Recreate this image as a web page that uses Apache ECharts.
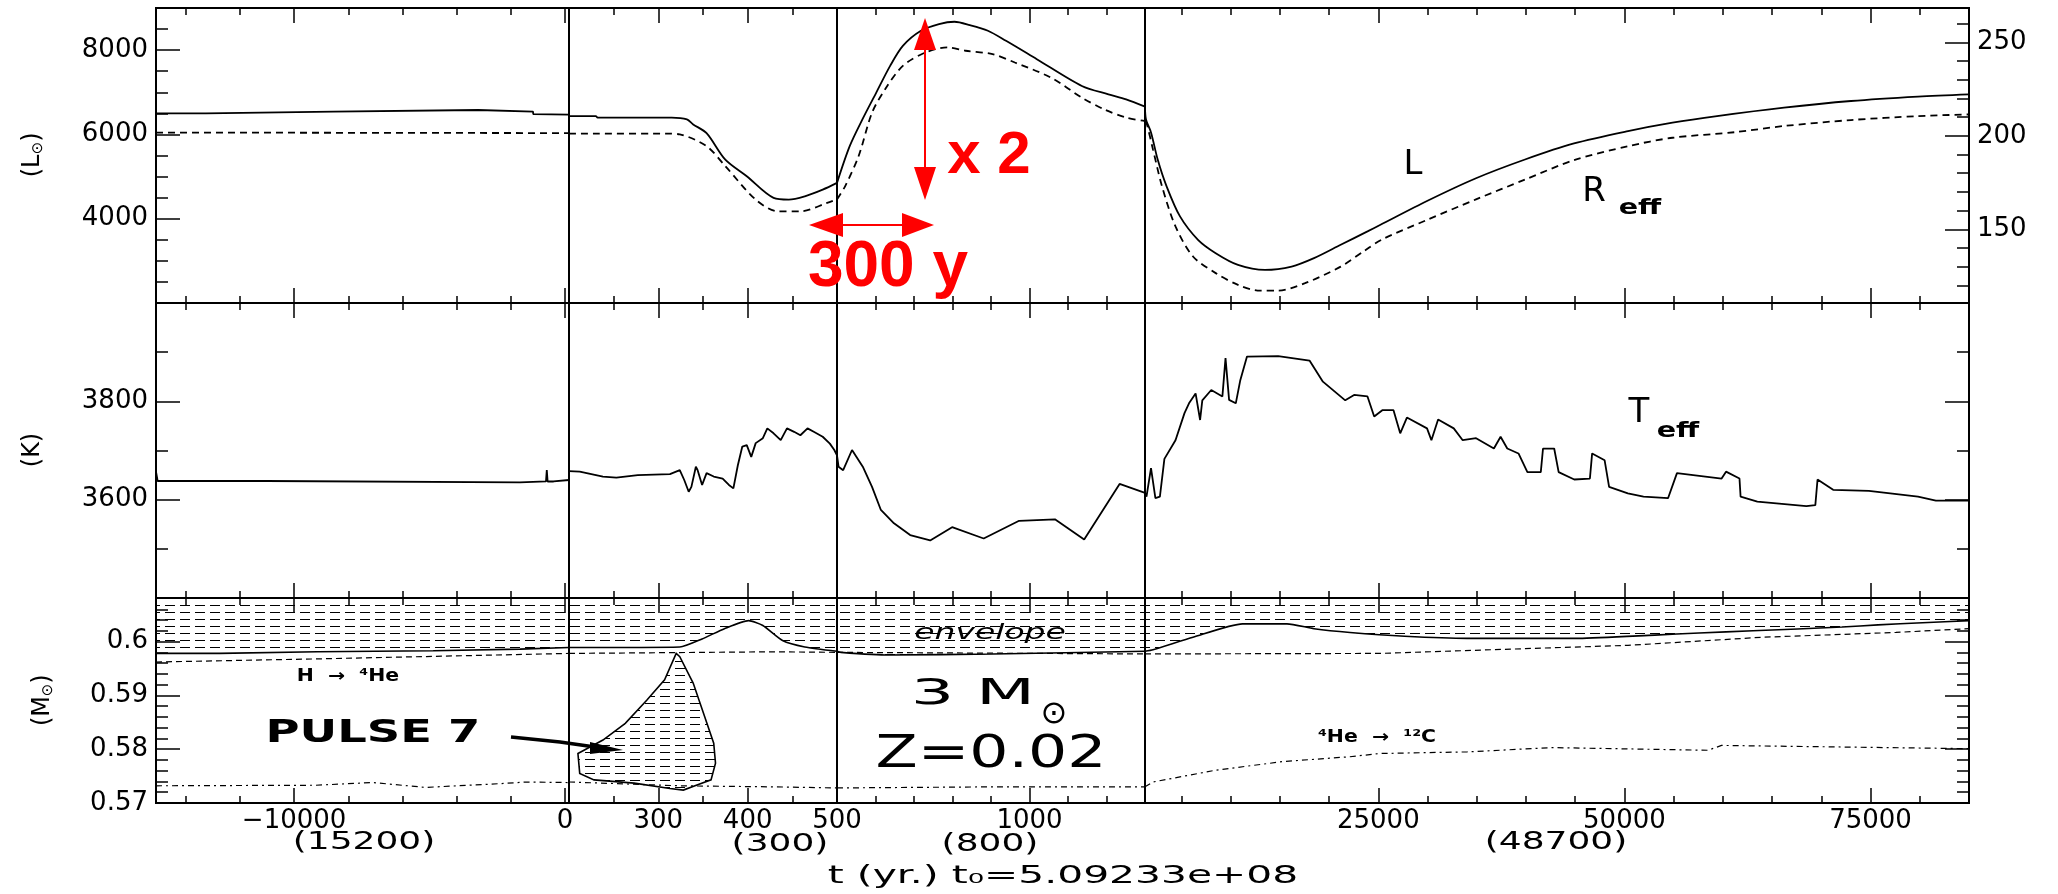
<!DOCTYPE html>
<html>
<head>
<meta charset="utf-8">
<script src="https://cdn.jsdelivr.net/npm/echarts@6/dist/echarts.min.js"></script>
<style>
html,body{margin:0;padding:0;background:#fff;}
#chart{width:2058px;height:894px;}
</style>
</head>
<body>
<div id="chart"></div>
<script>
// x axis is broken into 4 time pieces, each with its own scale
var SEG_RANGE = [[-15100, 150], [200, 500], [500, 1300], [1300, 85000]];
var X_MAJOR = [[-10000, 0], [300, 400], [1000], [25000, 50000, 75000]];
var X_MINOR = [[-14000, -12000, -8000, -6000, -4000, -2000], [250, 350, 450],
               [600, 700, 800, 900, 1100, 1200],
               [5000, 10000, 15000, 20000, 30000, 35000, 40000, 45000, 55000, 60000, 65000, 70000, 80000]];
var X_LABELS = [[-10000, 0], [300, 400], [500, 1000], [25000, 50000, 75000]];
var SEG_SPAN = ['(15200)', '(300)', '(800)', '(48700)'];

// y scales of the 3 panels (L, Teff, mass) and radius on the right of panel 1
var Y_RANGE = [[2000, 9000], [3400, 4000], [0.57, 0.6081]];
var R_RANGE = [110.5, 268.5];
var Y_MAJOR = [[4000, 6000, 8000], [3600, 3800], [0.58, 0.59, 0.6]];
var Y_MINOR = [[2500, 3000, 3500, 4500, 5000, 5500, 6500, 7000, 7500, 8500], [3500, 3700, 3900],
               [0.572, 0.574, 0.576, 0.578, 0.582, 0.584, 0.586, 0.588, 0.592, 0.594, 0.596, 0.598, 0.602, 0.604, 0.606]];
var Y_LABELS = [[4000, 6000, 8000], [3600, 3800], [0.57, 0.58, 0.59, 0.6]];
var R_MAJOR = [150, 200, 250];
var R_MINOR = [120, 130, 140, 160, 170, 180, 190, 210, 220, 230, 240, 260];

// luminosity (solid)
var LUM = [[-15100,6500],[-13260,6500],[-13250,6540],[-8545,6540],[-8535,6580],[-3204,6580],[-3194,6540],[-1179,6540],[-1169,6480],[150,6470],
  [200,6436],[230,6436],[232,6398],[315,6398],[332,6357],[339,6238],[354,6030],[375,5400],[399,5007],[429,4493],[446,4452],[464,4531],[484,4690],[500,4850],
  [533,5721],[566,6357],[602,6993],[638,7626],[671,8102],[718,8460],[765,8619],[805,8674],[845,8595],[892,8460],[939,8221],[1019,7786],[1136,7150],[1205,6952],[1251,6833],[1300,6659],
  [1400,6357],[1910,6048],[2590,5405],[3494,4769],[4855,4055],[6684,3500],[8482,3183],[10747,2905],[13490,2786],[16192,2865],[18467,3064],[21180,3381],[23902,3700],[25172,3850],
  [29946,4420],[34923,4960],[39900,5405],[44877,5786],[50363,6079],[54883,6279],[59403,6436],[66209,6636],[73015,6793],[79821,6898],[85000,6952]];

// effective radius (dashed, right axis)
var RAD = [[-15100,201.8],[150,201.5],
  [200,201.2],[310,201.2],[324,200.8],[354,194.5],[375,183.8],[409,165.9],[434,159.6],[459,159.6],[489,164.1],[500,166],
  [521,173.0],[556,189.1],[591,212.4],[625,225.0],[671,237.5],[730,244.7],[788,247.4],[834,245.6],[904,243.8],[962,239.3],[1055,231.3],[1136,220.5],[1194,214.2],[1251,209.8],[1300,207.9],
  [1450,207.1],[2113,192.7],[3027,173.0],[4398,151.5],[6176,135.4],[8482,126.5],[10747,120.2],[12982,117.1],[14810,117.1],[17553,121.1],[21180,130.0],[23597,138.5],[25375,144.5],
  [29946,155.0],[34923,166.0],[39900,176.6],[44877,187.0],[50363,194.5],[54883,199.0],[61232,202.0],[66209,205.3],[73015,208.5],[79821,210.6],[85000,211.5]];

// effective temperature
var TEFF = [[-15100,3657],[-15040,3638],[-11030,3638],[-11000,3635],[-1660,3635],[-1640,3637],[-700,3637],[-670,3660],[-640,3637],[-420,3637],[-400,3640],[150,3640],
  [200,3658],[212,3657],[238,3647],[253,3645],[277,3650],[313,3652],[324,3660],[329,3640],[334,3616],[337,3626],[342,3667],[344,3660],[349,3630],[354,3654],[362,3647],
  [372,3643],[379,3630],[384,3623],[389,3670],[394,3708],[399,3711],[404,3687],[409,3715],[417,3725],[422,3745],[429,3735],[437,3721],[444,3745],[452,3738],[459,3731],
  [467,3745],[474,3738],[484,3728],[492,3714],[497,3701],[500,3690],
  [504,3667],[516,3660],[539,3701],[567,3667],[591,3626],[614,3579],[648,3552],[690,3528],[742,3517],[799,3544],[881,3521],[973,3557],[1066,3560],[1142,3519],[1234,3632],[1300,3614],
  [1452,3606],[1910,3664],[2357,3603],[2813,3606],[3271,3683],[4398,3721],[5312,3776],[5770,3796],[6440,3816],[6897,3762],[7121,3802],[8030,3823],[9162,3810],[9479,3888],
  [9842,3803],[10522,3796],[10980,3843],[11660,3891],[14830,3892],[18010,3883],[19370,3840],[21640,3802],[22540,3813],[23900,3810],[24580,3769],[25405,3782],[26543,3782],
  [27223,3735],[27904,3767],[29946,3745],[30393,3721],[31073,3763],[32663,3745],[33571,3721],[34932,3725],[36740,3704],[37420,3728],[38100,3704],[39237,3694],[40144,3656],
  [41504,3656],[41730,3704],[42864,3704],[43318,3656],[44905,3641],[46492,3643],[46719,3694],[47989,3680],[48442,3626],[50347,3613],[51934,3606],[54428,3603],[55335,3654],
  [59870,3643],[60320,3657],[61686,3643],[61800,3606],[63500,3596],[68480,3587],[69390,3589],[69615,3641],[71200,3620],[74830,3618],[79820,3606],[81633,3598],[85000,3598]];

// bottom of the convective envelope (solid, hatched above)
var ENV = [[-15100,0.5978],[-12744,0.5978],[-12700,0.5981],[-9134,0.5981],[-9100,0.5983],[-4862,0.5983],[-4820,0.5986],[-1657,0.5986],[-1620,0.5989],[150,0.5989],
  [200,0.5989],[324,0.5990],[349,0.6005],[374,0.6024],[401,0.6039],[417,0.6030],[439,0.6002],[464,0.5990],[500,0.5982],
  [510,0.5980],[634,0.5975],[904,0.5977],[1300,0.5982],
  [2113,0.5985],[6176,0.6008],[11204,0.6033],[15724,0.6033],[18467,0.6024],[22124,0.6017],[27670,0.6010],[34009,0.6006],[45385,0.6006],[53065,0.6012],
  [57575,0.6016],[63060,0.6020],[72101,0.6027],[75758,0.6031],[80278,0.6035],[85000,0.6039]];

// H burning shell (dashed)
var H_SHELL = [[-15100,0.5962],[-9000,0.5968],[150,0.5978],[200,0.5978],[430,0.5981],[500,0.5980],[1300,0.5977],
  [25172,0.5978],[36751,0.5985],[50363,0.5993],[63975,0.6008],[77587,0.6017],[85000,0.6024]];

// He burning shell (dashed)
var HE_SHELL = [[-15100,0.5732],[-9200,0.5733],[-7100,0.5738],[-5150,0.5729],[-2730,0.5735],[-1400,0.5739],[150,0.5738],
  [200,0.5739],[324,0.5732],[429,0.5730],[500,0.5728],[904,0.5730],[1300,0.5730],
  [2113,0.5739],[8482,0.5761],[15324,0.5777],[22124,0.5786],[25172,0.5792],[34009,0.5795],[42643,0.5803],[58490,0.5798],[59862,0.5807],[85000,0.5801]];

// outline of the pulse convective zone
var PULSE = [[210,0.5792],[238,0.5817],[263,0.5848],[287,0.5891],[307,0.5929],[320,0.5978],[324,0.5972],[339,0.5923],[352,0.5860],
  [362,0.5811],[364,0.5774],[359,0.5743],[344,0.5734],[328,0.5724],[313,0.5727],[273,0.5737],[228,0.5743],[212,0.5755]];

var FONT = '"DejaVu Sans", sans-serif';
var SEG_BOX = [{left:156, width:413}, {left:569, width:268}, {left:837, width:308}, {left:1145, width:824}];
var PANEL_BOX = [{top:8, height:295}, {top:303, height:295}, {top:598, height:205}];

function makeHatch(){
	var c = document.createElement('canvas');
	c.width = 15; c.height = 7;
	var g = c.getContext('2d');
	g.fillStyle = '#000';
	g.fillRect(0, 3, 10, 1);
	return c;
}
var hatch = {image: makeHatch(), repeat: 'repeat'};

function fmtX(v){
	return v < 0 ? '\u2212' + (-v) : String(v);
}
function fmtY(v){
	return String(v);
}

var grids = [], xAxes = [], yAxes = [], series = [];

function xDef(gi, s, pos, ticks, len, labels){
	return {
		gridIndex: gi, type: 'value', min: SEG_RANGE[s][0], max: SEG_RANGE[s][1], position: pos,
		axisLine: {show: false, onZero: false}, splitLine: {show: false},
		axisTick: {show: true, inside: true, length: len, customValues: ticks, lineStyle: {color: '#000', width: 1.5}},
		axisLabel: labels ? {show: true, customValues: labels, formatter: fmtX, color: '#000', fontSize: 26, fontFamily: FONT, margin: 5} : {show: false}
	};
}
function yDef(gi, range, pos, ticks, len, labels, show){
	return {
		gridIndex: gi, type: 'value', min: range[0], max: range[1], position: pos, show: show,
		axisLine: {show: false, onZero: false}, splitLine: {show: false},
		axisTick: {show: !!ticks, inside: true, length: len, customValues: ticks || [], lineStyle: {color: '#000', width: 1.5}},
		axisLabel: labels ? {show: true, customValues: labels, formatter: fmtY, color: '#000', fontSize: 26, fontFamily: FONT, margin: 8} : {show: false}
	};
}

function inSeg(data, s){
	return data.filter(function(d){ return d[0] >= SEG_RANGE[s][0] && d[0] <= SEG_RANGE[s][1]; });
}
function line(xi, yi, data, style, extra){
	var o = {type: 'line', xAxisIndex: xi, yAxisIndex: yi, data: data, symbol: 'none', silent: true,
		lineStyle: style, z: 3};
	for (var k in extra) o[k] = extra[k];
	series.push(o);
}

for (var p = 0; p < 3; p++) {
	for (var s = 0; s < 4; s++) {
		var gi = grids.length;
		grids.push({left: SEG_BOX[s].left, width: SEG_BOX[s].width, top: PANEL_BOX[p].top, height: PANEL_BOX[p].height,
			show: true, borderColor: '#000', borderWidth: 2, backgroundColor: 'transparent', containLabel: false, outerBoundsMode: 'none'});
		var xi = xAxes.length;
		xAxes.push(xDef(gi, s, 'bottom', X_MAJOR[s], 15, p === 2 ? X_LABELS[s] : null));
		xAxes.push(xDef(gi, s, 'bottom', X_MINOR[s], 7, null));
		xAxes.push(xDef(gi, s, 'top', X_MAJOR[s], 15, null));
		xAxes.push(xDef(gi, s, 'top', X_MINOR[s], 7, null));

		var yi = yAxes.length;
		yAxes.push(yDef(gi, Y_RANGE[p], 'left', s === 0 ? Y_MAJOR[p] : null, 24, s === 0 ? Y_LABELS[p] : null, s === 0));
		if (s === 0) yAxes.push(yDef(gi, Y_RANGE[p], 'left', Y_MINOR[p], 12, null, true));

		var ri = -1;
		if (p === 0) {
			ri = yAxes.length;
			yAxes.push(yDef(gi, R_RANGE, 'right', s === 3 ? R_MAJOR : null, 24, s === 3 ? R_MAJOR : null, s === 3));
			if (s === 3) yAxes.push(yDef(gi, R_RANGE, 'right', R_MINOR, 12, null, true));
		} else if (s === 3) {
			yAxes.push(yDef(gi, Y_RANGE[p], 'right', Y_MAJOR[p], 24, null, true));
			yAxes.push(yDef(gi, Y_RANGE[p], 'right', Y_MINOR[p], 12, null, true));
		}

		if (p === 0) {
			line(xi, yi, inSeg(LUM, s), {color: '#000', width: 1.8}, {smooth: s === 0 ? false : 0.3});
			line(xi, ri, inSeg(RAD, s), {color: '#000', width: 1.8, type: [7, 5]}, {smooth: s === 0 ? false : 0.3});
		} else if (p === 1) {
			line(xi, yi, inSeg(TEFF, s), {color: '#000', width: 1.8}, {});
		} else {
			line(xi, yi, inSeg(ENV, s), {color: '#000', width: 1.6},
				{areaStyle: {origin: 'end', color: hatch, opacity: 1}, smooth: s === 0 ? false : 0.2});
			line(xi, yi, inSeg(H_SHELL, s), {color: '#000', width: 1.2, type: [6, 4]}, {});
			line(xi, yi, inSeg(HE_SHELL, s), {color: '#000', width: 1.2, type: [6, 4, 2, 4]}, {});
			if (s === 1) {
				series.push({
					type: 'custom', xAxisIndex: xi, yAxisIndex: yi, data: PULSE, silent: true, z: 4,
					renderItem: function(params, api){
						if (params.dataIndex !== 0) return null;
						var pts = PULSE.map(function(d){ return api.coord(d); });
						return {type: 'polygon', shape: {points: pts},
							style: {fill: hatch, stroke: '#000', lineWidth: 1.6}};
					}
				});
			}
		}
	}
}

function txt(x, y, s, font, color, sx){
	return {type: 'text', x: x, y: y, scaleX: sx || 1, silent: true, z: 100,
		style: {text: s, x: 0, y: 0, font: font, fill: color || '#000',
			textAlign: 'center', textVerticalAlign: 'middle', align: 'center', verticalAlign: 'middle'}};
}
// rotated pieces of the axis titles (read bottom to top)
function vtxt(x, y, s, size){
	var t = txt(x, y, s, size + 'px ' + FONT);
	t.rotation = Math.PI / 2;
	return t;
}
var RED = '#ff0000';
var graphics = [
	vtxt(33, 166, '(L', 24), vtxt(38, 148, '\u2299', 15), vtxt(33, 137, ')', 24),
	vtxt(33, 450, '(K)', 24),
	vtxt(43, 711, '(M', 24), vtxt(48, 690, '\u2299', 15), vtxt(43, 679, ')', 24),
	txt(1413, 165, 'L', '34px ' + FONT),
	txt(1594, 192, 'R', '34px ' + FONT),
	txt(1640, 208, 'eff', 'bold 22px ' + FONT, null, 1.3),
	txt(1639, 413, 'T', '34px ' + FONT),
	txt(1678, 431, 'eff', 'bold 22px ' + FONT, null, 1.3),
	txt(990, 633, 'envelope', 'italic 22px ' + FONT, null, 1.5),
	txt(348, 677, 'H  \u2192  \u2074He', 'bold 17px ' + FONT, null, 1.2),
	txt(1377, 738, '\u2074He  \u2192  \u00b9\u00b2C', 'bold 17px ' + FONT, null, 1.2),
	txt(373, 734, 'PULSE 7', 'bold 32px ' + FONT, null, 1.45),
	txt(973, 695, '3 M', '36px ' + FONT, null, 1.9),
	txt(1054, 715, '\u2299', '32px ' + FONT),
	txt(991, 756, 'Z=0.02', '44px ' + FONT, null, 1.4),
	txt(364, 843, SEG_SPAN[0], '24px ' + FONT, null, 1.5),
	txt(780, 845, SEG_SPAN[1], '24px ' + FONT, null, 1.5),
	txt(990, 845, SEG_SPAN[2], '24px ' + FONT, null, 1.5),
	txt(1556, 843, SEG_SPAN[3], '24px ' + FONT, null, 1.5),
	txt(1063, 877, 't (yr.) t\u2080=5.09233e+08', '24px ' + FONT, null, 1.7),
	// arrow to the pulse
	{type: 'polyline', silent: true, z: 100, shape: {points: [[511, 737], [560, 742], [595, 747]]}, style: {stroke: '#000', lineWidth: 3.5, fill: null}},
	{type: 'polygon', silent: true, z: 100, shape: {points: [[590, 742], [623, 750], [590, 754]]}, style: {fill: '#000'}},
	// red annotations
	{type: 'line', silent: true, z: 100, shape: {x1: 925, y1: 45, x2: 925, y2: 172}, style: {stroke: RED, lineWidth: 2}},
	{type: 'polygon', silent: true, z: 100, shape: {points: [[925, 18], [914, 50], [936, 50]]}, style: {fill: RED}},
	{type: 'polygon', silent: true, z: 100, shape: {points: [[925, 200], [914, 167], [936, 167]]}, style: {fill: RED}},
	{type: 'line', silent: true, z: 100, shape: {x1: 840, y1: 225, x2: 905, y2: 225}, style: {stroke: RED, lineWidth: 2}},
	{type: 'polygon', silent: true, z: 100, shape: {points: [[809, 225], [843, 213], [843, 237]]}, style: {fill: RED}},
	{type: 'polygon', silent: true, z: 100, shape: {points: [[934, 225], [902, 213], [902, 237]]}, style: {fill: RED}},
	txt(989, 156, 'x 2', 'bold 60px "Liberation Sans", sans-serif', RED),
	txt(888, 268, '300 y', 'bold 64px "Liberation Sans", sans-serif', RED)
];

var chart = echarts.init(document.getElementById('chart'), null, {renderer: 'canvas'});
chart.setOption({
	animation: false,
	backgroundColor: '#fff',
	grid: grids,
	xAxis: xAxes,
	yAxis: yAxes,
	series: series,
	graphic: graphics
});
</script>
</body>
</html>
